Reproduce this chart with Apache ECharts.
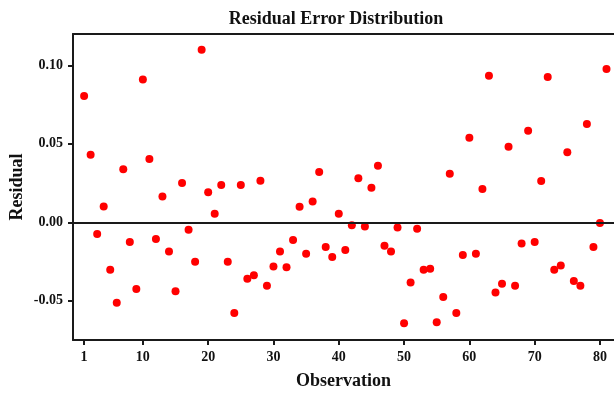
<!DOCTYPE html>
<html>
<head>
<meta charset="utf-8">
<script src="https://cdn.jsdelivr.net/npm/echarts@6/dist/echarts.min.js"></script>
<style>html,body{margin:0;padding:0;background:#fff}#c{width:614px;height:395px}</style>
</head>
<body>
<div id="c"></div>
<script>
const observations = [1,2,3,4,5,6,7,8,9,10,11,12,13,14,15,16,17,18,19,20,21,22,23,24,25,26,27,28,29,30,31,32,33,34,35,36,37,38,39,40,41,42,43,44,45,46,47,48,49,50,51,52,53,54,55,56,57,58,59,60,61,62,63,64,65,66,67,68,69,70,71,72,73,74,75,76,77,78,79,80,81];
const residuals = [0.0805,0.0431,-0.0075,0.0100,-0.0302,-0.0512,0.0338,-0.0126,-0.0425,0.0910,
0.0404,-0.0107,0.0164,-0.0186,-0.0440,0.0251,-0.0048,-0.0251,0.1100,0.0192,
0.0054,0.0237,-0.0251,-0.0578,0.0237,-0.0359,-0.0338,0.0265,-0.0404,-0.0281,
-0.0186,-0.0287,-0.0113,0.0099,-0.0200,0.0132,0.0321,-0.0158,-0.0221,0.0054,
-0.0177,-0.0018,0.0281,-0.0027,0.0221,0.0360,-0.0150,-0.0186,-0.0033,-0.0644,
-0.0383,-0.0041,-0.0302,-0.0296,-0.0637,-0.0476,0.0309,-0.0578,-0.0209,0.0539,
-0.0200,0.0213,0.0934,-0.0448,-0.0391,0.0482,-0.0404,-0.0135,0.0584,-0.0126,
0.0264,0.0926,-0.0302,-0.0275,0.0447,-0.0374,-0.0404,0.0627,-0.0158,-0.0005,0.0977];
const xTicks = [1,10,20,30,40,50,60,70,80];
const yTicks = [-0.05,0,0.05,0.10];

const font = 'Liberation Serif';
const axisColor = '#1a1a1a';
const chart = echarts.init(document.getElementById('c'));
const points = observations.map((o, i) => [o, residuals[i]]);
chart.setOption({
  animation: false,
  title: {
    text: 'Residual Error Distribution',
    left: 331, top: 5, textAlign: 'center',
    textStyle: {fontFamily: font, fontWeight: 'bold', fontSize: 18, color: '#111'}
  },
  grid: {left: 73, right: 0, top: 34, bottom: 55, containLabel: false, outerBoundsMode: 'none'},
  xAxis: [{
    type: 'value', min: -0.7, max: 82.15,
    name: 'Observation', nameLocation: 'middle', nameGap: 32, nameMoveOverlap: false,
    nameTextStyle: {fontFamily: font, fontWeight: 'bold', fontSize: 18, color: '#111'},
    splitLine: {show: false},
    axisLine: {show: true, onZero: false, lineStyle: {color: axisColor, width: 2}},
    axisTick: {show: true, length: 5, customValues: xTicks, lineStyle: {color: axisColor, width: 2}},
    axisLabel: {customValues: xTicks, margin: 10, fontFamily: font, fontWeight: 'bold', fontSize: 14, color: '#111'}
  }, {
    type: 'value', position: 'top', min: -0.7, max: 82.15,
    splitLine: {show: false},
    axisLine: {show: true, onZero: false, lineStyle: {color: axisColor, width: 2}},
    axisTick: {show: false}, axisLabel: {show: false}
  }],
  yAxis: {
    type: 'value', min: -0.075, max: 0.12,
    name: 'Residual', nameLocation: 'middle', nameGap: 47, nameRotate: 90, nameMoveOverlap: false,
    nameTextStyle: {fontFamily: font, fontWeight: 'bold', fontSize: 18, color: '#111'},
    splitLine: {show: false},
    axisLine: {show: true, onZero: false, lineStyle: {color: axisColor, width: 2}},
    axisTick: {show: true, length: 5, customValues: yTicks, lineStyle: {color: axisColor, width: 2}},
    axisLabel: {customValues: yTicks, margin: 10, formatter: v => v.toFixed(2),
      fontFamily: font, fontWeight: 'bold', fontSize: 14, color: '#111'}
  },
  series: [{
    type: 'scatter', data: points, symbolSize: 8,
    itemStyle: {color: '#ff0000', opacity: 1},
    markLine: {
      silent: true, symbol: ['none', 'none'], label: {show: false},
      lineStyle: {color: axisColor, width: 2, type: 'solid'},
      data: [{yAxis: 0}]
    }
  }]
});
</script>
</body>
</html>
